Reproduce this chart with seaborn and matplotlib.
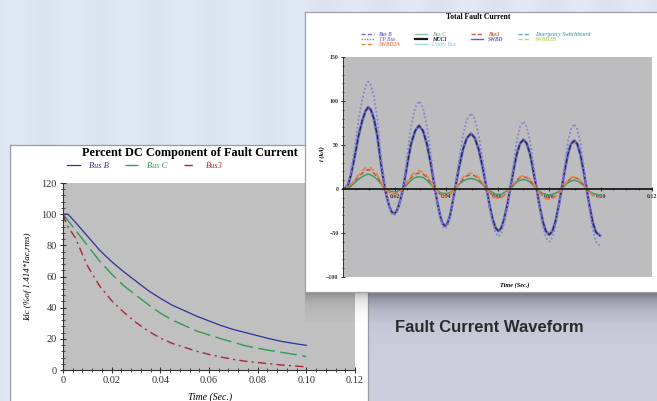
import numpy as np
import matplotlib
matplotlib.use("Agg")
import matplotlib.pyplot as plt
from matplotlib.lines import Line2D
from matplotlib.ticker import MultipleLocator, FixedLocator, FixedFormatter
import seaborn as sns

# ---- left chart: percent DC component of fault current ----
t_dc = [0, 0.002, 0.005, 0.01, 0.015, 0.02, 0.025, 0.03, 0.035, 0.04, 0.045,
        0.05, 0.055, 0.06, 0.065, 0.07, 0.075, 0.08, 0.085, 0.09, 0.095, 0.10]
bus_b = [100, 100, 95, 86, 77, 69.5, 63, 57, 51, 46, 41.5,
         38, 34.5, 31.5, 28.5, 26, 24, 22, 20, 18.3, 17, 15.8]
bus_c = [100, 96, 90, 80, 70, 61.5, 54, 48, 42, 36.5, 32,
         28.5, 25, 22.5, 20, 17.8, 15.5, 14, 12.5, 11.3, 10, 8.6]
bus_3 = [100, 92, 85, 67, 54, 44.5, 37, 30.5, 25, 20.5, 17,
         14.5, 12, 10, 8.3, 6.8, 5.6, 4.8, 4, 3.2, 2.6, 2]

# ---- right chart: total fault current (kA) ----
t_wave = [0, 0.001, 0.002, 0.003, 0.0045, 0.006, 0.0075, 0.0088, 0.0098, 0.0108, 0.012, 0.0133, 0.0148, 0.0163,
          0.0172, 0.0180, 0.0189, 0.0198, 0.0207, 0.0215, 0.0224, 0.0233,
          0.0249, 0.0264, 0.0280, 0.0295, 0.0311, 0.0326, 0.0342, 0.0357,
          0.0367, 0.0377, 0.0386, 0.0396, 0.0406, 0.0416, 0.0425, 0.0435,
          0.0450, 0.0466, 0.0481, 0.0497, 0.0512, 0.0527, 0.0543, 0.0558,
          0.0569, 0.0581, 0.0592, 0.0604, 0.0615, 0.0626, 0.0638, 0.0649,
          0.0662, 0.0675, 0.0688, 0.0701, 0.0713, 0.0726, 0.0739, 0.0752,
          0.0764, 0.0776, 0.0788, 0.0801, 0.0813, 0.0825, 0.0837, 0.0849,
          0.0861, 0.0873, 0.0885, 0.0898, 0.0910, 0.0922, 0.0934, 0.0946,
          0.0958, 0.0970, 0.0982, 0.0998]
i_mcc1 = [0, 1, 5, 15, 36, 60, 78, 89, 93, 90, 80, 61, 28, 0,
          -11, -20, -26, -28, -26, -20, -11, 0,
          27, 51, 66, 72, 66, 51, 27, 0,
          -16, -30, -39, -42, -39, -30, -16, 0,
          24, 45, 58, 63, 58, 45, 24, 0,
          -18, -34, -44, -48, -44, -34, -18, 0,
          21, 40, 52, 56, 52, 40, 21, 0,
          -20, -37, -48, -52, -48, -37, -20, 0,
          21, 39, 51, 55, 51, 39, 21, 0,
          -20, -38, -49, -53]
i_tp_bus = [0, 1, 6, 19, 47, 78, 102, 117, 122, 118, 105, 80, 37, 0,
            -11, -21, -28, -30, -28, -21, -11, 0,
            38, 71, 92, 100, 92, 71, 38, 0,
            -17, -32, -41, -45, -41, -32, -17, 0,
            33, 61, 79, 86, 79, 61, 33, 0,
            -21, -38, -50, -54, -50, -38, -21, 0,
            29, 55, 71, 77, 71, 55, 29, 0,
            -23, -43, -55, -60, -55, -43, -23, 0,
            28, 53, 68, 74, 68, 53, 28, 0,
            -25, -46, -60, -65]
i_swbd2a = [0, 0, 2, 5, 10, 16, 21, 24, 25, 24, 21, 16, 8, 0,
            -2, -4, -6, -6, -6, -4, -2, 0,
            8, 15, 19, 21, 19, 15, 8, 0,
            -3, -6, -8, -9, -8, -6, -3, 0,
            7, 13, 17, 18, 17, 13, 7, 0,
            -4, -8, -10, -11, -10, -8, -4, 0,
            6, 11, 14, 15, 14, 11, 6, 0,
            -5, -9, -11, -12, -11, -9, -5, 0,
            5, 10, 13, 14, 13, 10, 5, 0,
            -4, -7, -9, -10]
i_bus3 = [0, 0, 2, 4, 9, 14, 18, 21, 22, 21, 18, 14, 7, 0,
          -2, -4, -5, -5, -5, -4, -2, 0,
          7, 13, 17, 18, 17, 13, 7, 0,
          -3, -6, -7, -8, -7, -6, -3, 0,
          6, 11, 15, 16, 15, 11, 6, 0,
          -4, -7, -9, -10, -9, -7, -4, 0,
          5, 10, 13, 14, 13, 10, 5, 0,
          -4, -8, -10, -11, -10, -8, -4, 0,
          5, 9, 12, 13, 12, 9, 5, 0,
          -4, -7, -8, -9]
i_bus_c = [0, 0, 1, 3, 7, 11, 14, 16, 17, 16, 14, 11, 6, 0,
           -1, -2, -3, -3, -3, -2, -1, 0,
           5, 10, 13, 14, 13, 10, 5, 0,
           -2, -4, -5, -5, -5, -4, -2, 0,
           5, 9, 11, 12, 11, 9, 5, 0,
           -2, -4, -6, -6, -6, -4, -2, 0,
           4, 8, 10, 11, 10, 8, 4, 0,
           -3, -5, -6, -7, -6, -5, -3, 0,
           4, 7, 9, 10, 9, 7, 4, 0,
           -3, -5, -6, -7]

W, H = 657, 401
SERIF = "Liberation Serif"
fig = plt.figure(figsize=(W / 100, H / 100), dpi=100)

def fx(px):
    return px / W

def fy(py):
    return 1 - py / H

# background: pale blue with a grey-lavender shadowed area under the waveform panel
yy, xx = np.mgrid[0:H, 0:W]
bg = np.empty((H, W, 3))
bg[:] = (0.866, 0.902, 0.945)
bg += 0.012 * np.sin(xx / 9.0)[..., None] * np.array([1, 1, 1])
low = (xx > 366) & (yy > 290)
shade = np.clip(np.exp(-(yy - 290) / 18.0), 0, 1)
for c, (lo, dk) in enumerate(zip((0.80, 0.81, 0.865), (0.60, 0.60, 0.67))):
    bg[..., c] = np.where(low, lo * (1 - shade) + dk * shade, bg[..., c])
bg = np.clip(bg, 0, 1)
ax_bg = fig.add_axes([0, 0, 1, 1], zorder=0)
ax_bg.imshow(bg, extent=(0, W, H, 0), aspect="auto")
ax_bg.set_axis_off()

# left white panel
ax_lp = fig.add_axes([fx(10), -0.02, fx(358), (401 - 145) / H + 0.02], zorder=1)
ax_lp.set_facecolor("white")
ax_lp.set_xticks([]); ax_lp.set_yticks([])
for s in ax_lp.spines.values():
    s.set_color("#9a9aa2"); s.set_linewidth(0.9)

# left chart
ax1 = fig.add_axes([fx(63), fy(370), fx(292), 187 / H], zorder=2)
ax1.set_facecolor("#c0c0c0")
sns.lineplot(x=t_dc, y=bus_b, ax=ax1, color="#2f2f9a", linewidth=0.9, label="Bus B")
sns.lineplot(x=t_dc, y=bus_c, ax=ax1, color="#2e9a55", linewidth=1.0,
             linestyle=(0, (12, 4)), label="Bus C")
sns.lineplot(x=t_dc, y=bus_3, ax=ax1, color="#a8283c", linewidth=1.0,
             linestyle=(0, (6, 3, 1.5, 3)), label="Bus3")
ax1.set_xlim(0, 0.12)
ax1.set_ylim(0, 120)
for s in ("top", "right"):
    ax1.spines[s].set_visible(False)
for s in ("left", "bottom"):
    ax1.spines[s].set_color("#333333"); ax1.spines[s].set_linewidth(0.8)
xt = [0, 0.02, 0.04, 0.06, 0.08, 0.10, 0.12]
ax1.xaxis.set_major_locator(FixedLocator(xt))
ax1.xaxis.set_major_formatter(FixedFormatter(["0", "0.02", "0.04", "0.06", "0.08", "0.10", "0.12"]))
ax1.xaxis.set_minor_locator(MultipleLocator(0.004))
ax1.yaxis.set_major_locator(MultipleLocator(20))
ax1.yaxis.set_minor_locator(MultipleLocator(4))
ax1.tick_params(which="major", direction="inout", length=5, width=0.8, colors="#333333",
                labelsize=7.5, pad=2)
ax1.tick_params(which="minor", direction="inout", length=3, width=0.6, colors="#333333")
for lab in ax1.get_xticklabels() + ax1.get_yticklabels():
    lab.set_family(SERIF)
ax1.text(0.435, 1.16, "Percent DC Component of Fault Current", transform=ax1.transAxes,
         ha="center", va="center", family=SERIF, weight="bold", fontsize=8.8, color="black")
ax1.legend(loc="center", bbox_to_anchor=(0.28, 1.09), ncol=3, frameon=False,
           prop=dict(family=SERIF, style="italic", size=6), labelcolor="linecolor",
           handlelength=1.5, handletextpad=1.1, columnspacing=2.0)
ax1.text(-0.12, 0.5, "Idc (%of 1.414*Iac,rms)", transform=ax1.transAxes, rotation=90,
         ha="center", va="center", family=SERIF, style="italic", fontsize=6.5)
ax1.text(0.503, -0.145, "Time (Sec.)", transform=ax1.transAxes, ha="center", va="center",
         family=SERIF, style="italic", fontsize=7)

# shadow of the waveform panel
sh_h = 30
alpha = 0.28 * np.exp(-np.arange(sh_h) / 9.0)
sh = np.zeros((sh_h, 10, 4))
sh[..., 3] = alpha[:, None]
ax_sh = fig.add_axes([fx(305), fy(292 + sh_h), fx(352), sh_h / H], zorder=2.5)
ax_sh.imshow(sh, extent=(0, 1, 1, 0), aspect="auto")
ax_sh.set_axis_off()

# right white panel
ax_rp = fig.add_axes([fx(305), fy(292), fx(360), 280 / H], zorder=3)
ax_rp.set_facecolor("white")
ax_rp.set_xticks([]); ax_rp.set_yticks([])
for s in ax_rp.spines.values():
    s.set_color("#a0a0a8"); s.set_linewidth(0.9)

# right chart
ax2 = fig.add_axes([fx(343), fy(277), fx(309), 220 / H], zorder=4)
ax2.set_facecolor("#bdbdbf")
sns.lineplot(x=t_wave, y=i_mcc1, ax=ax2, color="#6a6ad2", linewidth=2.0)
sns.lineplot(x=t_wave, y=i_mcc1, ax=ax2, color="#262630", linewidth=0.9,
             linestyle=(0, (4, 1.5)))
sns.lineplot(x=t_wave, y=i_tp_bus, ax=ax2, color="#8c7fcf", linewidth=1.3,
             linestyle=(0, (1, 1.2)))
sns.lineplot(x=t_wave, y=i_bus_c, ax=ax2, color="#3c9e64", linewidth=1.1)
sns.lineplot(x=t_wave, y=i_bus3, ax=ax2, color="#c8503c", linewidth=1.1,
             linestyle=(0, (3, 2)))
sns.lineplot(x=t_wave, y=i_swbd2a, ax=ax2, color="#e8834a", linewidth=1.3,
             linestyle=(0, (3, 2)))
ax2.set_xlim(0, 0.12)
ax2.set_ylim(-100, 150)
ax2.spines["bottom"].set_position(("data", 0))
ax2.spines["bottom"].set_linewidth(1.3)
ax2.spines["bottom"].set_color("#1a1a1a")
ax2.spines["left"].set_color("#333333")
ax2.spines["left"].set_linewidth(0.7)
for s in ("top", "right"):
    ax2.spines[s].set_visible(False)
ax2.xaxis.set_major_locator(FixedLocator([0.02, 0.04, 0.06, 0.08, 0.10, 0.12]))
ax2.xaxis.set_major_formatter(FixedFormatter(["0.02", "0.04", "0.06", "0.08", "0.10", "0.12"]))
ax2.xaxis.set_minor_locator(MultipleLocator(0.005))
ax2.yaxis.set_major_locator(MultipleLocator(50))
ax2.yaxis.set_minor_locator(MultipleLocator(10))
ax2.tick_params(which="major", direction="inout", length=3.5, width=0.7, colors="#333333",
                labelsize=4.2, pad=1.5)
ax2.tick_params(which="minor", direction="inout", length=2, width=0.6, colors="#333333")
for lab in ax2.get_xticklabels() + ax2.get_yticklabels():
    lab.set_family(SERIF)
    lab.set_weight("bold")
ax2.text(0.437, 1.182, "Total Fault Current", transform=ax2.transAxes, ha="center",
         va="center", family=SERIF, weight="bold", fontsize=5.5)
ax2.text(-0.068, 0.56, "i (kA)", transform=ax2.transAxes, rotation=90, ha="center",
         va="center", family=SERIF, style="italic", weight="bold", fontsize=4.5)
ax2.text(0.557, -0.036, "Time (Sec.)", transform=ax2.transAxes, ha="center", va="center",
         family=SERIF, style="italic", weight="bold", fontsize=4.5)

leg_labels = ["Bus B", "TP Bus", "SWBD2A", "Bus C", "MCC1", "Utility Bus",
              "Bus3", "SWBD", "Emergency Switchboard", "SWBD2B"]
leg_styles = [("#7a6ad0", (0, (3, 1.5)), 1.0), ("#8c7fcf", (0, (1, 1)), 1.0),
              ("#e8834a", (0, (3, 1.5)), 1.0), ("#9cb89c", "-", 1.0),
              ("#1a1a1a", "-", 1.6), ("#9fd6e8", "-", 1.0),
              ("#d05a40", (0, (3, 1.5)), 1.0), ("#5a5ad0", "-", 1.0),
              ("#58b0b8", (0, (3, 1.5)), 1.0), ("#b8d860", (0, (3, 1.5)), 1.0)]
handles = [Line2D([], [], color=c, linestyle=ls, linewidth=lw) for c, ls, lw in leg_styles]
ax2.legend(handles, leg_labels, loc="center", bbox_to_anchor=(0.43, 1.08), ncol=4,
           frameon=False, prop=dict(family=SERIF, style="italic", weight="bold", size=4.0),
           labelcolor="linecolor", handlelength=2.2, handletextpad=0.9,
           labelspacing=0.05, columnspacing=2.6)

fig.text(fx(395), fy(327), "Fault Current Waveform", ha="left", va="center",
         family="Liberation Sans", weight="bold", fontsize=12, color="#2a2a2e", zorder=5)

fig.savefig("out.png", dpi=100)
